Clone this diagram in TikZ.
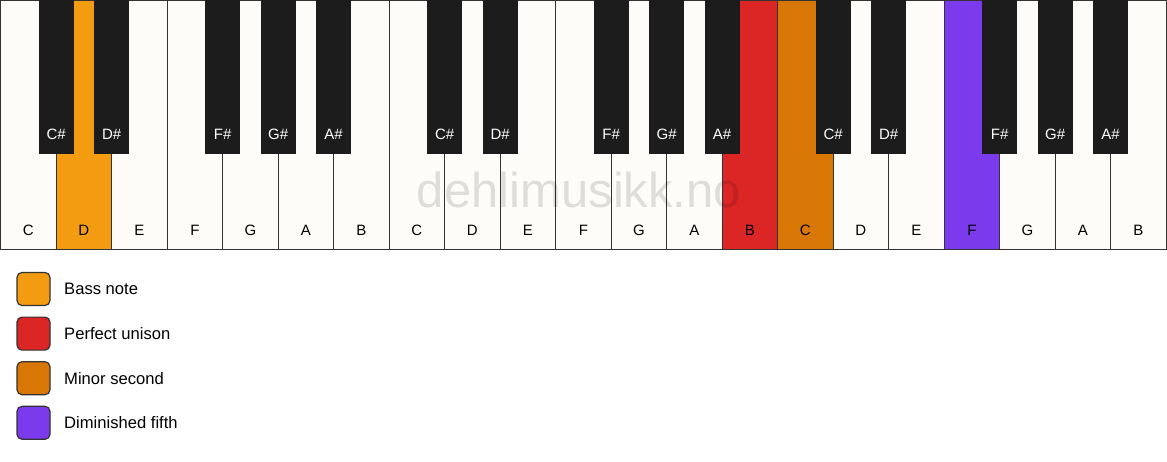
\documentclass[tikz,border=0pt]{standalone}
\usepackage{fontspec}
\setmainfont{Liberation Sans}
\definecolor{keywhite}{HTML}{FDFCF9}
\definecolor{keyblack}{HTML}{1C1C1C}
\definecolor{keyline}{HTML}{333333}
\definecolor{bassc}{HTML}{F39C12}
\definecolor{unisonc}{HTML}{DC2626}
\definecolor{minorc}{HTML}{D97706}
\definecolor{dimc}{HTML}{7C3AED}
\tikzset{
  whitekey/.style={draw=keyline, line width=1.2pt, fill=keywhite, minimum width=55.52pt, minimum height=249pt, anchor=north west, inner sep=0pt, outer sep=0pt},
  blackkey/.style={fill=keyblack, draw=keyblack, line width=0.5pt, minimum width=34pt, minimum height=153pt, anchor=north, inner sep=0pt, outer sep=0pt},
  wlabel/.style={font=\fontsize{15}{15}\selectfont, text=black, anchor=base},
  blabel/.style={font=\fontsize{15}{15}\selectfont, text=white, anchor=base},
  legbox/.style={draw=keyline, line width=1.2pt, rounded corners=5pt, minimum width=33pt, minimum height=33pt, inner sep=0pt},
  legtext/.style={font=\fontsize{16.6}{16.6}\selectfont, anchor=west, inner sep=0pt},
  watermark/.style={font=\fontsize{49}{49}\selectfont, text=black, text opacity=0.12, anchor=base, inner sep=0pt}
}
\begin{document}
\begin{tikzpicture}[x=1pt,y=-1pt]
\useasboundingbox (0,0) rectangle (1167,461);
\fill[white] (0,0) rectangle (1167,461);
% white keys
\foreach \i/\n/\c in {0/C/keywhite,1/D/bassc,2/E/keywhite,3/F/keywhite,4/G/keywhite,5/A/keywhite,6/B/keywhite,
  7/C/keywhite,8/D/keywhite,9/E/keywhite,10/F/keywhite,11/G/keywhite,12/A/keywhite,13/B/unisonc,
  14/C/minorc,15/D/keywhite,16/E/keywhite,17/F/dimc,18/G/keywhite,19/A/keywhite,20/B/keywhite}{
  \node[whitekey, fill=\c] (wk\i) at ({0.6+\i*55.5}, 0.6) {};
}
% black keys
\foreach \i/\n in {0/C\#,1/D\#,3/F\#,4/G\#,5/A\#,7/C\#,8/D\#,10/F\#,11/G\#,12/A\#,14/C\#,15/D\#,17/F\#,18/G\#,19/A\#}{
  \node[blackkey] (bk\i) at (wk\i.north east) {};
  \node[blabel] (bl\i) at ([yshift=14pt]bk\i.south) {\n};
}
% white labels
\foreach \i/\n in {0/C,1/D,2/E,3/F,4/G,5/A,6/B,7/C,8/D,9/E,10/F,11/G,12/A,13/B,14/C,15/D,16/E,17/F,18/G,19/A,20/B}{
  \node[wlabel] (wl\i) at ([yshift=14pt]wk\i.south) {\n};
}
% watermark
\node[watermark] (wm) at (579,207) {dehlimusikk.no};
% legend
\foreach \k/\c/\t [count=\j from 0] in {bass/bassc/Bass note, unison/unisonc/Perfect unison, minor/minorc/Minor second, dim/dimc/Diminished fifth}{
  \node[legbox, fill=\c] (lb\k) at (33.5, {289+\j*44.6}) {};
  \node[legtext] (lt\k) at (64, {289+\j*44.6}) {\t};
}
\end{tikzpicture}
\end{document}
